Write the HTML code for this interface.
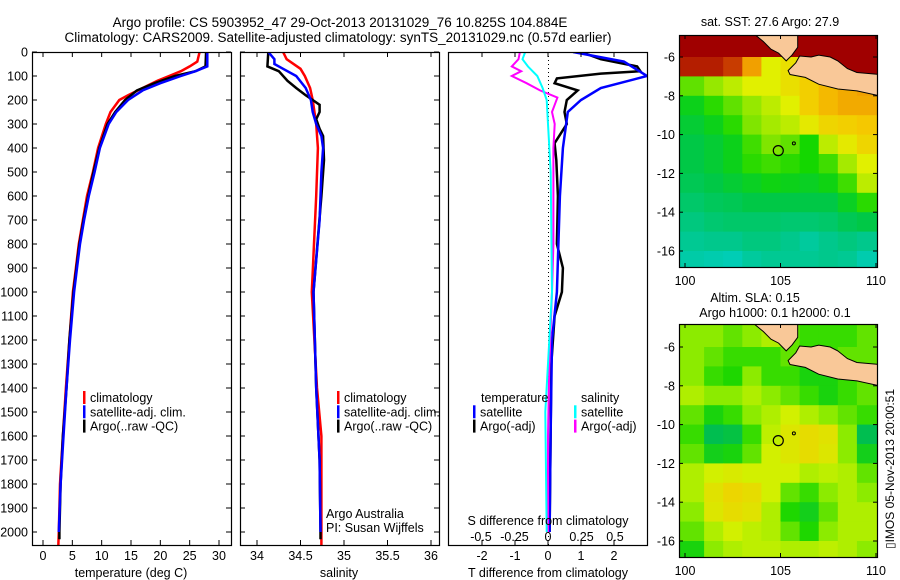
<!DOCTYPE html>
<html><head><meta charset="utf-8">
<style>
html,body{margin:0;padding:0;background:#fff;}
svg{display:block;font-family:"Liberation Sans",sans-serif;}
text{font-size:12.5px;fill:#000;}
</style></head>
<body>
<svg id="s" width="900" height="580" viewBox="0 0 900 580" xmlns="http://www.w3.org/2000/svg">
<text x="340" y="27" text-anchor="middle" style="font-size:13.5px">Argo profile: CS 5903952_47 29-Oct-2013 20131029_76 10.825S 104.884E</text>
<text x="338" y="42" text-anchor="middle" style="font-size:13.5px">Climatology: CARS2009. Satellite-adjusted climatology: synTS_20131029.nc (0.57d earlier)</text>
<text x="770" y="26" text-anchor="middle">sat. SST: 27.6 Argo: 27.9</text>
<text x="755" y="302" text-anchor="middle">Altim. SLA: 0.15</text>
<text x="775" y="317" text-anchor="middle">Argo h1000: 0.1 h2000: 0.1</text>
<text transform="translate(894,549) rotate(-90)" style="font-size:12px">▯IMOS 05-Nov-2013 20:00:51</text>
</svg>
<script>
// ---------- data ----------
const depthTicks=[0,100,200,300,400,500,600,700,800,900,1000,1100,1200,1300,1400,1500,1600,1700,1800,1900,2000];
const tempTicks=[0,5,10,15,20,25,30];
const salTicks=[34,34.5,35,35.5,36];
const tdiffTicks=[-2,-1,0,1,2];
const sdiffTicks=[-0.5,-0.25,0,0.25,0.5];
const lonTicks=[100,105,110];
const latTicks=[-6,-8,-10,-12,-14,-16];

const climTdepth=[0,40,60,80,100,120,150,180,200,250,300,400,500,600,700,800,900,1000,1200,1400,1600,1800,2000,2060];
const climT=[26.7,26.3,25,23.5,21.5,19.5,17,14.5,13,11.5,10.7,9.4,8.5,7.5,6.8,6.1,5.6,5.1,4.5,3.9,3.4,2.9,2.7,2.6];
const satTdepth=[0,60,80,100,130,160,200,250,300,400,500,600,700,800,900,1000,1200,1400,1600,1800,2000];
const satT=[28.0,28.0,26,23.5,20,17,14.5,12.5,11.2,9.7,8.8,7.8,7.0,6.3,5.8,5.3,4.6,4.0,3.5,3.0,2.7];
const argoTdepth=[0,60,80,100,130,160,200,250,300,400,500,600,700,800,900,1000,1200,1400,1600,1800,2000,2030];
const argoT=[27.8,27.7,26,22.5,19,16,14,12.3,11,9.6,8.6,7.7,6.9,6.2,5.7,5.2,4.5,4.0,3.4,3.0,2.8,2.8];

const climSdepth=[0,30,70,100,150,200,300,400,600,1000,1400,1600,2000,2060];
const climS=[34.30,34.34,34.5,34.55,34.61,34.64,34.68,34.70,34.68,34.63,34.69,34.74,34.74,34.74];
const satSdepth=[0,30,50,70,100,150,200,250,300,350,400,500,700,1000,1400,1700,2000];
const satS=[34.13,34.2,34.2,34.3,34.45,34.56,34.62,34.64,34.68,34.74,34.76,34.74,34.72,34.65,34.68,34.72,34.73];
const argoSdepth=[0,60,80,120,150,180,200,220,250,280,320,350,450,600,1000,1400,1700,2000,2030];
const argoS=[34.13,34.12,34.25,34.35,34.45,34.56,34.64,34.72,34.72,34.68,34.72,34.76,34.77,34.74,34.65,34.68,34.72,34.73,34.73];

const dTsatDepth=[0,40,100,150,200,250,400,600,1000,1200,1600,2000];
const dTsat=[0.76,2.3,3.0,1.6,1.0,0.6,0.45,0.36,0.27,0.12,0.08,0.05];
const dTargoDepth=[0,30,60,80,90,110,130,160,200,250,300,380,450,600,800,900,1000,1100,1300,1600,2000];
const dTargo=[1.0,1.6,2.7,2.8,1.6,0.27,0.2,0.9,0.57,0.5,0.57,0.2,0.25,0.3,0.27,0.45,0.42,0.2,0.1,0.08,0.05];
const dSsatDepth=[0,30,60,100,150,200,300,500,1000,1500,2000];
const dSsat=[-0.17,-0.19,-0.15,-0.08,-0.04,-0.01,0.0,0.02,0.03,-0.02,-0.01];
const dSargoDepth=[0,30,60,80,100,130,160,190,220,250,300,400,500,800,1000,1300,1600,2000];
const dSargo=[-0.21,-0.22,-0.27,-0.2,-0.27,-0.16,-0.06,0.07,0.05,0.03,0.05,0.04,0.04,0.04,0.03,0.01,0.0,0.0];

const sstGrid=[
[1,1,1,1,1,1,1,1,1,1],
[0.95,0.95,0.9,0.8,0.6,0.65,0.7,1,1,1],
[0.45,0.5,0.55,0.6,0.6,0.65,0.7,0.75,0.78,0.8],
[0.35,0.4,0.45,0.5,0.55,0.6,0.7,0.75,0.78,0.78],
[0.32,0.35,0.4,0.48,0.52,0.55,0.62,0.68,0.7,0.72],
[0.3,0.32,0.35,0.42,0.48,0.45,0.38,0.55,0.62,0.68],
[0.3,0.32,0.35,0.4,0.42,0.4,0.38,0.42,0.52,0.6],
[0.28,0.3,0.32,0.34,0.36,0.35,0.34,0.36,0.42,0.55],
[0.25,0.27,0.28,0.3,0.3,0.3,0.3,0.3,0.34,0.4],
[0.22,0.24,0.25,0.25,0.25,0.24,0.24,0.25,0.28,0.3],
[0.18,0.2,0.2,0.22,0.22,0.2,0.15,0.2,0.22,0.2],
[0.12,0.1,0.08,0.15,0.18,0.18,0.18,0.2,0.18,0.1]];
const slaGrid=[
[0.55,0.55,0.5,0.55,0.6,0.5,0.45,0.45,0.45,0.5],
[0.55,0.5,0.45,0.45,0.45,0.5,0.45,0.45,0.5,0.5],
[0.55,0.45,0.42,0.55,0.45,0.45,0.4,0.4,0.45,0.5],
[0.6,0.55,0.55,0.6,0.55,0.5,0.45,0.4,0.45,0.5],
[0.5,0.4,0.45,0.55,0.6,0.65,0.6,0.55,0.5,0.45],
[0.45,0.3,0.32,0.45,0.62,0.7,0.75,0.72,0.55,0.3],
[0.5,0.38,0.4,0.5,0.65,0.7,0.75,0.7,0.55,0.38],
[0.6,0.65,0.68,0.65,0.65,0.65,0.6,0.62,0.6,0.5],
[0.6,0.72,0.78,0.75,0.65,0.5,0.45,0.55,0.6,0.55],
[0.55,0.7,0.75,0.72,0.6,0.42,0.38,0.5,0.6,0.6],
[0.5,0.6,0.65,0.62,0.6,0.5,0.42,0.55,0.6,0.6],
[0.4,0.55,0.6,0.62,0.62,0.6,0.6,0.62,0.6,0.55]];
const gridLon0=100, gridLat0=-5;
const sumatraLon=[103.6,105.9,105.9,105.6,105.3,104.9,104.5,104.1,103.6];
const sumatraLat=[-4.8,-4.8,-5.5,-5.9,-6.2,-5.8,-5.6,-5.2,-4.8];
const javaLon=[105.4,105.8,106.0,106.6,107.0,107.6,108.0,108.5,109.0,110.2,110.2,109.0,108.0,107.0,106.3,105.5];
const javaLat=[-6.7,-6.3,-5.95,-6.0,-5.9,-6.0,-6.2,-6.6,-6.8,-6.9,-8.0,-7.75,-7.65,-7.4,-7.05,-6.9];
const argoLon=104.884, argoLat=-10.825;

// ---------- helpers ----------
const S=document.getElementById('s');
const NS='http://www.w3.org/2000/svg';
function mk(tag,attrs,parent){const e=document.createElementNS(NS,tag);for(const k in attrs)e.setAttribute(k,attrs[k]);(parent||S).appendChild(e);return e;}
function txt(x,y,str,anchor,parent){const t=mk('text',{x:x,y:y,'text-anchor':anchor||'start'},parent);t.textContent=str;return t;}

const Y0=52, PXD=0.24;
const yD=d=>Y0+d*PXD;
const xT=v=>43+v*(176/30);
const xS=v=>257+(v-34)*87;
const xdT=v=>548+v*33;
const xdS=v=>548+v*134;

function panel(name){
  const g=mk('g',{});
  
  
  return g;
}
function frame(g,x0,x1,y0,y1){mk('rect',{x:x0+.5,y:y0+.5,width:x1-x0,height:y1-y0,fill:'none',stroke:'#000','stroke-width':1.2},g);}
function line(g,xs,ds,fx,color,name,w){
  const pts=xs.map((v,i)=>fx(v).toFixed(1)+','+yD(ds[i]).toFixed(1)).join(' ');
  const p=mk('polyline',{points:pts,fill:'none',stroke:color,'stroke-width':w||2.5,'stroke-linejoin':'miter'},g);
  
  
  return p;
}

const PB=[[32,231],[240,439],[448,647]];
const YB=545;
const defs=mk('defs',{});
PB.forEach((b,i)=>{const c=mk('clipPath',{id:'cp'+i},defs);mk('rect',{x:b[0],y:Y0,width:b[1]-b[0],height:YB-Y0},c);});

// Panel 1 temperature
const g1=panel('temperature-panel');
const g1c=mk('g',{'clip-path':'url(#cp0)'},g1);
line(g1c,climT,climTdepth,xT,'#f00','climatology-temp-line');
line(g1c,argoT,argoTdepth,xT,'#000','argo-temp-line');
line(g1c,satT,satTdepth,xT,'#00f','satellite-temp-line');
frame(g1,32,231,Y0,YB);
depthTicks.forEach(d=>{const y=yD(d);mk('line',{x1:32,x2:37,y1:y,y2:y,stroke:'#000'},g1);mk('line',{x1:226,x2:231,y1:y,y2:y,stroke:'#000'},g1);
  const t=txt(28,y+4.5,String(d),'end',g1);});
tempTicks.forEach(v=>{const x=xT(v);mk('line',{x1:x,x2:x,y1:Y0,y2:Y0+5,stroke:'#000'},g1);mk('line',{x1:x,x2:x,y1:YB-5,y2:YB,stroke:'#000'},g1);
  const t=txt(x,560,String(v),'middle',g1);});
txt(131,577,'temperature (deg C)','middle',g1);

// Panel 2 salinity
const g2=panel('salinity-panel');
const g2c=mk('g',{'clip-path':'url(#cp1)'},g2);
line(g2c,climS,climSdepth,xS,'#f00','climatology-sal-line');
line(g2c,argoS,argoSdepth,xS,'#000','argo-sal-line');
line(g2c,satS,satSdepth,xS,'#00f','satellite-sal-line');
frame(g2,240,439,Y0,YB);
depthTicks.forEach(d=>{const y=yD(d);mk('line',{x1:240,x2:245,y1:y,y2:y,stroke:'#000'},g2);mk('line',{x1:434,x2:439,y1:y,y2:y,stroke:'#000'},g2);});
salTicks.forEach(v=>{const x=xS(v);mk('line',{x1:x,x2:x,y1:Y0,y2:Y0+5,stroke:'#000'},g2);mk('line',{x1:x,x2:x,y1:YB-5,y2:YB,stroke:'#000'},g2);
  const t=txt(x,560,String(v),'middle',g2);});
txt(339,577,'salinity','middle',g2);
txt(326,518,'Argo Australia','start',g2);
txt(326,532,'PI: Susan Wijffels','start',g2);

function legend(g,mx,y0,items){items.forEach((it,i)=>{const y=y0+i*14.3;mk('rect',{x:mx,y:y-11,width:2.5,height:13,fill:it[1]},g);const t=txt(mx+7,y,it[0],'start',g);});}
legend(g1,83,402,[['climatology','#f00'],['satellite-adj. clim.','#00f'],['Argo(..raw -QC)','#000']]);
legend(g2,337,402,[['climatology','#f00'],['satellite-adj. clim.','#00f'],['Argo(..raw -QC)','#000']]);

// Panel 3 differences
const g3=panel('difference-panel');
mk('line',{x1:548.5,x2:548.5,y1:Y0,y2:YB,stroke:'#000','stroke-dasharray':'1,3'},g3);
const g3c=mk('g',{'clip-path':'url(#cp2)'},g3);
line(g3c,dTargo,dTargoDepth,xdT,'#000','argo-tdiff-line');
line(g3c,dTsat,dTsatDepth,xdT,'#00f','satellite-tdiff-line');
line(g3c,dSargo,dSargoDepth,xdS,'#f0f','argo-sdiff-line',2);
line(g3c,dSsat,dSsatDepth,xdS,'#0ff','satellite-sdiff-line',2);
frame(g3,448,647,Y0,YB);
tdiffTicks.forEach(v=>{const x=xdT(v);mk('line',{x1:x,x2:x,y1:Y0,y2:Y0+5,stroke:'#000'},g3);mk('line',{x1:x,x2:x,y1:YB-5,y2:YB,stroke:'#000'},g3);
  const t=txt(x,560,String(v),'middle',g3);});
sdiffTicks.forEach(v=>{const t=txt(xdS(v),541,String(v),'middle',g3);});
txt(548,525,'S difference from climatology','middle',g3);
txt(548,577,'T difference from climatology','middle',g3);
txt(481,402,'temperature','start',g3);
txt(581,402,'salinity','start',g3);
legend(g3,473,416.3,[['satellite','#00f'],['Argo(-adj)','#000']]);
legend(g3,574,416.3,[['satellite','#0ff'],['Argo(-adj)','#f0f']]);

// ---------- maps ----------
function lerp(a,b,t){return a+(b-a)*t;}
function cmap(stops,v){for(let i=1;i<stops.length;i++){if(v<=stops[i][0]){const a=stops[i-1],b=stops[i],t=(v-a[0])/(b[0]-a[0]);return 'rgb('+[1,2,3].map(k=>Math.round(lerp(a[k],b[k],t))).join(',')+')';}}const l=stops[stops.length-1];return 'rgb('+l[1]+','+l[2]+','+l[3]+')';}
const sstStops=[[0,0,208,208],[0.2,0,200,140],[0.3,0,200,70],[0.38,20,215,0],[0.5,150,232,0],[0.6,225,240,0],[0.72,245,200,0],[0.82,240,150,0],[0.9,200,60,0],[1,160,0,0]];
const slaStops=[[0,0,190,150],[0.3,0,190,80],[0.42,30,215,0],[0.55,140,235,0],[0.65,210,240,0],[0.8,240,210,0],[1,240,180,0]];

function map(y0,y1,grid,stops,name,lat6y,lat16y){
  const X0=679,X1=877;
  const xL=lon=>685+(lon-100)*19.1;
  const pxlat=(lat16y-lat6y)/10;
  const yL=lat=>lat6y+(-6-lat)*pxlat;
  const g=mk('g',{});
  
  
  const cid='mc'+name;const c=mk('clipPath',{id:cid},defs);mk('rect',{x:X0,y:y0,width:X1-X0,height:y1-y0},c);
  const gc=mk('g',{'clip-path':'url(#'+cid+')'},g);
  grid.forEach((row,r)=>row.forEach((v,ci)=>{
    const lon=gridLon0+ci, lat=gridLat0-r;
    const x=xL(lon)-(ci==0?10:0), w=xL(lon+1)-xL(lon)+(ci==0?10:0)+(ci==row.length-1?10:0)+0.5;
    const y=yL(lat)-(r==0?10:0), h=yL(lat-1)-yL(lat)+(r==0?10:0)+(r==grid.length-1?10:0)+0.5;
    const cell=mk('rect',{x:x,y:y,width:w,height:h,fill:cmap(stops,v)},gc);
    
    
  }));
  [[sumatraLon,sumatraLat,'sumatra-land'],[javaLon,javaLat,'java-land']].forEach(L=>{
    const p=mk('polygon',{points:L[0].map((lo,i)=>xL(lo).toFixed(1)+','+yL(L[1][i]).toFixed(1)).join(' '),fill:'#f9c898',stroke:'#000','stroke-width':1},gc);
    
  });
  mk('circle',{cx:xL(105.7),cy:yL(-10.45),r:1.5,fill:'none',stroke:'#000'},gc);
  const m=mk('circle',{cx:xL(argoLon),cy:yL(argoLat),r:5,fill:'none',stroke:'#000','stroke-width':1.2},gc);
  
  mk('rect',{x:X0+.5,y:y0+.5,width:X1-X0,height:y1-y0,fill:'none',stroke:'#000','stroke-width':1.2},g);
  lonTicks.forEach(lo=>{const x=xL(lo);mk('line',{x1:x,x2:x,y1:y0,y2:y0+4,stroke:'#000'},g);mk('line',{x1:x,x2:x,y1:y1-4,y2:y1,stroke:'#000'},g);
    const t=txt(x,y1+18,String(lo),'middle',g);});
  latTicks.forEach(la=>{const y=yL(la);mk('line',{x1:X0,x2:X0+4,y1:y,y2:y,stroke:'#000'},g);mk('line',{x1:X1-4,x2:X1,y1:y,y2:y,stroke:'#000'},g);
    const t=txt(675,y+4.5,String(la),'end',g);});
}
map(35,267,sstGrid,sstStops,'sst-map',57,251);
map(324,557,slaGrid,slaStops,'sla-map',347,541);
</script>
</body></html>
